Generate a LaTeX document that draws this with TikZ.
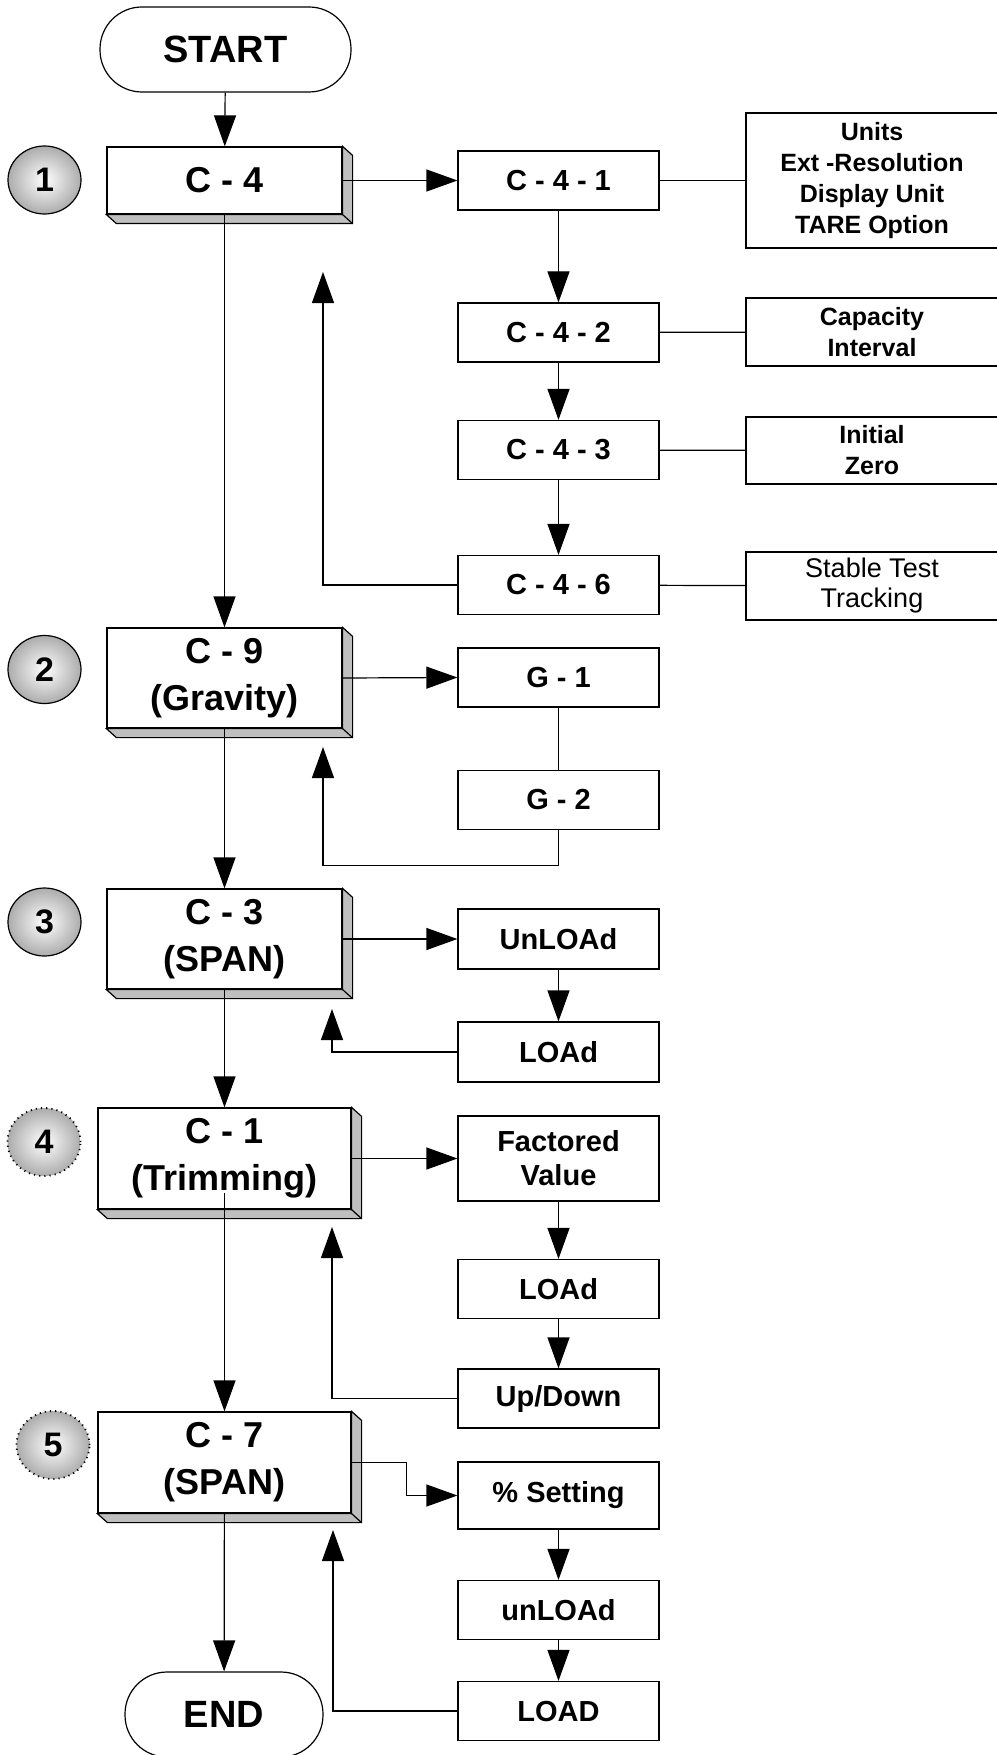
\documentclass[tikz,border=0pt]{standalone}
\usepackage{fontspec}
\setmainfont{Liberation Sans}
\usetikzlibrary{arrows.meta,shapes.geometric,calc}

\begin{document}
\begin{tikzpicture}[x=0.5pt,y=-0.5pt]
		\tikzset{mainbox/.style = {draw, fill=white, line width=0.6pt, inner sep=0pt, align=center, minimum width=117.5pt, minimum height=50pt, font=\bfseries\fontsize{18}{23.5}\selectfont},
			subbox/.style = {draw, line width=0.6pt, inner sep=0pt, align=center, minimum width=100.5pt, minimum height=29.5pt, font=\bfseries\fontsize{14.5}{17}\selectfont},
			notebox/.style = {draw, line width=0.6pt, inner sep=0pt, align=center, minimum width=126pt, minimum height=34pt, font=\bfseries\fontsize{12.5}{15.5}\selectfont},
			terminal/.style = {draw, line width=0.6pt, rounded corners=21pt, minimum height=42.5pt, inner sep=0pt, font=\bfseries\fontsize{19}{22}\selectfont},
			stepmark/.style = {ellipse, draw, line width=0.6pt, inner sep=0pt, minimum width=36.5pt, minimum height=34pt, inner color=white, outer color=gray!65, font=\bfseries\fontsize{17}{20}\selectfont},
			depth/.style = {draw, line width=0.6pt, fill=gray!50},
			arr/.style = {line width=0.6pt, -{Triangle[length=15.5pt,width=11pt]}},
			link/.style = {line width=0.6pt}}

		\useasboundingbox (0,0) rectangle (996,1755);

		% main column
		\node[terminal, minimum width=125.5pt] (start) at (225.5,49.5) {START};
		\node[mainbox, minimum height=33.5pt] (c4) at (224.5,180.5) {C - 4};
		\node[mainbox] (c9) at (224.5,678) {C - 9\\(Gravity)};
		\node[mainbox] (c3) at (224.5,939) {C - 3\\(SPAN)};
		\node[mainbox, minimum width=126.5pt, minimum height=50.5pt] (c1) at (224.5,1158.5) {C - 1\\(Trimming)};
		\node[mainbox, minimum width=126.5pt, minimum height=50.5pt] (c7) at (224.5,1462.5) {C - 7\\(SPAN)};
		\node[terminal, minimum width=99pt] (end) at (224,1714.5) {END};

		% step numbers
		\node[stepmark] (n1) at (44.5,180) {1};
		\node[stepmark] (n2) at (44.5,669.5) {2};
		\node[stepmark] (n3) at (44.5,922) {3};
		\node[stepmark, dotted, line width=0.9pt] (n4) at (44,1142) {4};
		\node[stepmark, dotted, line width=0.9pt] (n5) at (53,1445) {5};

		% sub steps
		\node[subbox] (c41) at (558.5,180.5) {C - 4 - 1};
		\node[subbox] (c42) at (558.5,332.5) {C - 4 - 2};
		\node[subbox] (c43) at (558.5,450) {C - 4 - 3};
		\node[subbox] (c46) at (558.5,585) {C - 4 - 6};
		\node[subbox] (g1) at (558.5,677.5) {G - 1};
		\node[subbox] (g2) at (558.5,800) {G - 2};
		\node[subbox, minimum height=30pt] (unload) at (558.5,939) {UnLOAd};
		\node[subbox, minimum height=30pt] (load1) at (558.5,1052) {LOAd};
		\node[subbox, minimum height=42.5pt] (factored) at (558.5,1158.5) {Factored\\Value};
		\node[subbox] (load2) at (558.5,1289) {LOAd};
		\node[subbox] (updown) at (558.5,1398.5) {Up/Down};
		\node[subbox, minimum height=33.5pt] (setting) at (558.5,1495.5) {\% Setting};
		\node[subbox] (unload2) at (558.5,1610) {unLOAd};
		\node[subbox] (load3) at (558.5,1711) {LOAD};

		% notes
		\node[notebox, minimum height=67.5pt] (units) at (872,180.5) {Units\\Ext -Resolution\\Display Unit\\TARE Option};
		\node[notebox] (capacity) at (872,332) {Capacity\\Interval};
		\node[notebox, minimum height=33.5pt] (initial) at (872,450.5) {Initial\\Zero};
		\node[notebox, font=\fontsize{13.5}{15}\selectfont] (stable) at (872,586) {Stable Test\\Tracking};

		% 3D edges of the main boxes
		\foreach \b in {c4,c9,c3,c1,c7}{
			\draw[depth] (\b.north east) -- ++(10,9) |- ($(\b.south west)+(10,9)$) -- (\b.south west) -- (\b.south east) -- cycle;
			\draw[link] (\b.south east) -- ++(10,9);
		}

		\coordinate (fb4) at (323,272);
		\coordinate (fb9) at (323,747);
		\coordinate (fb3) at (332,1009);
		\coordinate (fb1) at (332,1227);
		\coordinate (fb7) at (333,1530);

		\draw[arr] (start)--(c4);
		\draw[arr] (c4)--(c9);
		\draw[arr] (c9)--(c3);
		\draw[arr] (c3)--(c1);
		\draw[arr] ($(c1.center)+(0,34)$)--(c7.north);
		\draw[arr] (c7)--(end);

		\draw[arr] (c4.east)--(c41.west);
		\draw[arr] (c41)--(c42);
		\draw[arr] (c42)--(c43);
		\draw[arr] (c43)--(c46);
		\draw[arr] (c46.west) -| (fb4);
		\draw[link] (c41)--(units);
		\draw[link] (c42)--(capacity);
		\draw[link] (c43)--(initial);
		\draw[link] (c46)--(stable);

		\draw[arr] (c9.east)--(g1.west);
		\draw[link] (g1)--(g2);
		\draw[arr] (g2.south) -- ++(0,35) -| (fb9);

		\draw[arr] (c3.east)--(unload.west);
		\draw[arr] (unload)--(load1);
		\draw[arr] (load1.west) -| (fb3);

		\draw[arr] (c1.east)--(factored.west);
		\draw[arr] (factored)--(load2);
		\draw[arr] (load2)--(updown);
		\draw[arr] (updown.west) -| (fb1);

		\draw[arr] (c7.east) -- ++(55,0) |- (setting.west);
		\draw[arr] (setting)--(unload2);
		\draw[arr] (unload2)--(load3);
		\draw[arr] (load3.west) -| (fb7);

	\end{tikzpicture}
\end{document}
